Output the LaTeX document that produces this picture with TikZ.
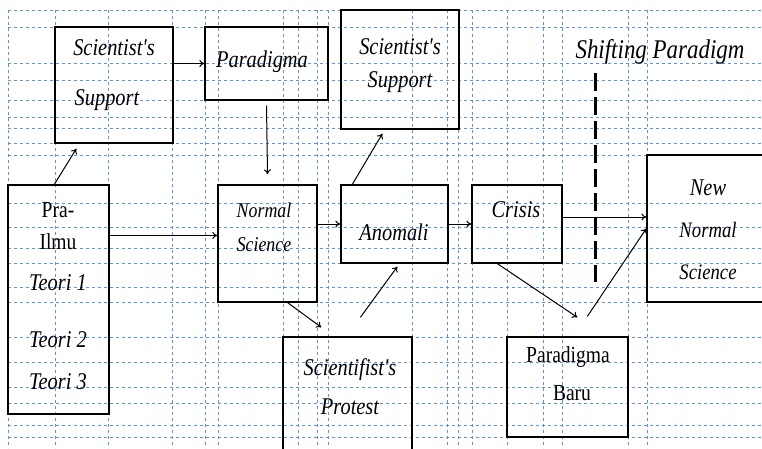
\documentclass[tikz,border=0pt]{standalone}
\usepackage{fontspec}
\setmainfont{Liberation Serif}
\newfontfamily\boxfont{Liberation Serif}[FakeStretch=0.85]
\usetikzlibrary{arrows.meta}
\definecolor{gridblue}{RGB}{95,145,225}

\tikzset{
	gridline/.style={draw=gridblue, dashed, line width=0.9pt},
	box/.style={draw, line width=1.3pt, inner sep=0pt},
	txt/.style={font=\boxfont\fontsize{24}{26}\selectfont\itshape, inner sep=0pt},
	uptxt/.style={font=\boxfont\fontsize{23}{25}\selectfont, inner sep=0pt},
	flow/.style={-{To[length=5pt,width=7pt]}, line width=1pt}
}

\begin{document}
\begin{tikzpicture}[x=1pt, y=-1pt]
			
			\useasboundingbox (0,0) rectangle (762,448);
			
			% Grid
			\foreach \gy in {10,27,63,80,100,117,128,143,155,203,227,248,263,287,302,337,362,387,403,425,437}
				\draw[gridline] (8,\gy) -- (762,\gy);
			\foreach \gx in {8,55,108,172,205,218,283,298,317,328,412,447,458,472,507,543,562,628,647}
				\draw[gridline] (\gx,10) -- (\gx,448);
			
			% Boxes
			\node[box, minimum width=118, minimum height=116] (sciL) at (114,85) {};
			\node[box, minimum width=123, minimum height=73] (paradigma) at (266.5,63.5) {};
			\node[box, minimum width=118, minimum height=119] (sciR) at (400,69.5) {};
			\node[box, minimum width=101, minimum height=229] (praIlmu) at (58.5,299.5) {};
			\node[box, minimum width=99, minimum height=117] (normal) at (267.5,243.5) {};
			\node[box, minimum width=107, minimum height=78] (anomali) at (394.5,224) {};
			\node[box, minimum width=90, minimum height=78] (crisis) at (517,224) {};
			\node[box, minimum width=124, minimum height=147] (newNormal) at (709,228.5) {};
			\node[box, minimum width=129, minimum height=118] (protest) at (347.5,396) {};
			\node[box, minimum width=121, minimum height=100] (baru) at (567.5,387) {};
			
			% Texts
			\node[txt] (sciLa) at (114,48) {Scientist's};
			\node[txt] (sciLb) at (107,100) {Support};
			\node[txt] (paradigmaT) at (262,62) {Paradigma};
			\node[txt] (sciRa) at (400,47) {Scientist's};
			\node[txt] (sciRb) at (400,82) {Support};
			\node[uptxt] (praA) at (58,210) {Pra-};
			\node[uptxt] (praB) at (58,242) {Ilmu};
			\node[txt] (teoriA) at (58,283) {Teori 1};
			\node[txt] (teoriB) at (58,340) {Teori 2};
			\node[txt] (teoriC) at (58,382) {Teori 3};
			\node[txt, font=\boxfont\fontsize{21}{23}\selectfont\itshape] (normalA) at (264,210) {Normal};
			\node[txt, font=\boxfont\fontsize{21}{23}\selectfont\itshape] (normalB) at (264,245) {Science};
			\node[txt] (anomaliT) at (394,232) {Anomali};
			\node[txt] (crisisT) at (516,210) {Crisis};
			\node[txt] (newA) at (708,188) {New};
			\node[txt, font=\boxfont\fontsize{22}{24}\selectfont\itshape] (newB) at (708,230) {Normal};
			\node[txt, font=\boxfont\fontsize{22}{24}\selectfont\itshape] (newC) at (708,272) {Science};
			\node[txt] (protestA) at (350,370) {Scientifist's};
			\node[txt] (protestB) at (350,407) {Protest};
			\node[uptxt] (baruA) at (568,357) {Paradigma};
			\node[uptxt] (baruB) at (572,393) {Baru};
			\node[txt, font=\boxfont\fontsize{27}{29}\selectfont\itshape] (shiftT) at (660,52) {Shifting Paradigm};
			
			% Shifting line
			\coordinate (shiftTop) at (595,73);
			\coordinate (shiftBot) at (595,282);
			\draw[line width=3pt, dash pattern=on 18pt off 6pt] (shiftTop) -- (shiftBot);
			
			% Arrows
			\draw[flow] ([xshift=47]praIlmu.north west) -- ([xshift=22,yshift=-5]sciL.south west);
			\draw[flow] (sciL.east |- paradigma.west) -- (paradigma.west);
			\draw[flow] ([yshift=-5]paradigma.south) -- ([yshift=10]normal.north);
			\draw[flow] ([yshift=8]praIlmu.east |- normal.west) -- ([yshift=8]normal.west);
			\draw[flow] (normal.east |- anomali.west) -- (anomali.west);
			\draw[flow] ([xshift=12]anomali.north west) -- ([xshift=42,yshift=-4]sciR.south west);
			\draw[flow] ([xshift=-30]normal.south east) -- ([xshift=39,yshift=9]protest.north west);
			\draw[flow] ([xshift=78,yshift=19]protest.north west) -- ([xshift=57,yshift=-3]anomali.south west);
			\draw[flow] (anomali.east) -- (crisis.west);
			\draw[flow] ([yshift=7]crisis.east) -- ([yshift=7]crisis.east -| newNormal.west);
			\draw[flow] ([xshift=26]crisis.south west) -- ([xshift=71,yshift=19]baru.north west);
			\draw[flow] ([xshift=81,yshift=20]baru.north west) -- (newNormal.west);
		\end{tikzpicture}
\end{document}
